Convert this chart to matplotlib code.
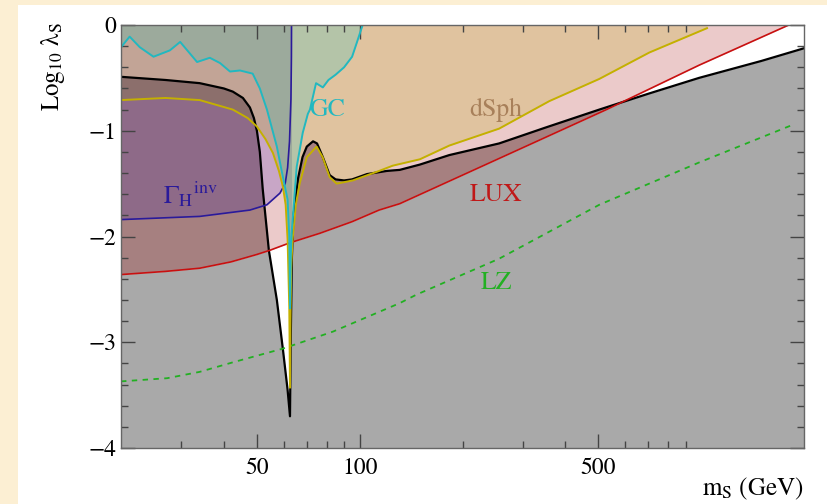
import numpy as np
import matplotlib
matplotlib.use("Agg")
import matplotlib.pyplot as plt
from matplotlib.patches import Rectangle

plt.rcParams["font.family"] = "STIXGeneral"
plt.rcParams["mathtext.fontset"] = "stix"

# curves: (m_S in GeV, log10 lambda_S)
relic_m = [20, 27, 34, 40, 42.5, 45.5, 47.7, 49, 50, 51, 52, 54.2, 57.2, 59.6, 61.5, 62.5,
           62.8, 63.3, 64, 66, 68, 70, 73, 75, 78, 81.7, 85, 90, 95, 105, 120, 131, 150,
           183, 256, 350, 503, 700, 986, 1500, 2000]
relic_l = [-0.49, -0.52, -0.55, -0.60, -0.63, -0.69, -0.78, -0.88, -1.00, -1.20, -1.55, -2.13,
           -2.60, -3.07, -3.45, -3.70, -3.00, -2.20, -1.80, -1.45, -1.25, -1.15, -1.10, -1.12,
           -1.25, -1.42, -1.46, -1.47, -1.46, -1.41, -1.38, -1.37, -1.32, -1.23, -1.12, -0.97,
           -0.80, -0.65, -0.50, -0.34, -0.22]

lux_m = [20, 27, 34, 42, 50, 54.6, 62.4, 76.4, 95, 114, 131, 200, 320, 528, 986, 1805, 2000]
lux_l = [-2.36, -2.33, -2.30, -2.24, -2.17, -2.13, -2.06, -1.97, -1.86, -1.75, -1.69, -1.42,
         -1.12, -0.80, -0.38, 0.0, 0.066]

dsph_m = [20, 27, 34, 42.5, 47, 50, 53, 55.7, 58, 59.6, 60.7, 61.5, 62.2, 62.5,
          62.7, 63.0, 63.6, 65, 66.7, 70, 74.8, 77.9, 81.7, 85.6, 95.4, 114, 125, 150,
          183, 256, 359, 503, 705, 1040]
dsph_l = [-0.71, -0.69, -0.71, -0.80, -0.88, -0.96, -1.08, -1.21, -1.38, -1.53, -1.70, -2.03,
          -2.67, -3.43, -2.80, -2.30, -2.03, -1.70, -1.50, -1.25, -1.15, -1.25, -1.44, -1.50,
          -1.47, -1.38, -1.33, -1.27, -1.14, -0.98, -0.72, -0.51, -0.26, -0.03]

gc_m = [20, 21.2, 22.7, 24.9, 27.8, 29.8, 33.4, 36.4, 39.0, 41.7, 44.6, 48.6, 51, 53.5, 57.2,
        59.6, 61.5, 62.2, 62.5, 62.8, 63.2, 65.4, 68.1, 70.5, 71.5, 74.5, 78, 81, 85, 90,
        95, 98, 102]
gc_l = [-0.21, -0.11, -0.21, -0.30, -0.24, -0.16, -0.35, -0.31, -0.36, -0.44, -0.43, -0.46,
        -0.60, -0.80, -1.15, -1.44, -1.65, -2.00, -2.68, -2.20, -1.97, -1.34, -1.02, -0.84,
        -0.80, -0.55, -0.59, -0.52, -0.47, -0.40, -0.30, -0.17, 0.0]

inv_m = [20, 34, 47.7, 53.5, 58.4, 60.5, 61.5, 62.3, 62.9, 63.1, 63.15]
inv_l = [-1.84, -1.81, -1.75, -1.70, -1.59, -1.50, -1.35, -1.10, -0.70, -0.30, 0.0]

lz_m = [20, 27.3, 34, 42.5, 59.6, 83.4, 131, 146.6, 256, 503, 986, 1866]
lz_l = [-3.37, -3.34, -3.28, -3.19, -3.06, -2.90, -2.63, -2.55, -2.21, -1.70, -1.30, -0.94]

xticks_major = [50, 100, 500]
xticks_minor = [30, 40, 60, 70, 80, 90, 200, 300, 400, 600, 700, 800, 900]
yticks_major = [0, -1, -2, -3, -4]

m_cut = 63.15  # edge of the invisible-width region


def on_grid(x, m, l):
    y = np.interp(np.log10(x), np.log10(m), l, left=np.nan, right=np.nan)
    return y


x = np.unique(np.concatenate([np.logspace(np.log10(20), np.log10(2000), 3000),
                              relic_m, lux_m, dsph_m, gc_m, inv_m]))
B = on_grid(x, relic_m, relic_l)
R = on_grid(x, lux_m, lux_l)
Y = on_grid(x, dsph_m, dsph_l)
C = on_grid(x, gc_m, gc_l)
H = on_grid(x, inv_m, inv_l)

fig = plt.figure(figsize=(8.28, 5.04), dpi=100)
fig.patch.set_facecolor("#FCEFD3")
fig.patches.append(Rectangle((18 / 828, 0), 1, 1 - 5 / 504, transform=fig.transFigure,
                             facecolor="white", edgecolor="none", zorder=-5))
ax = fig.add_axes([121 / 828, 1 - 448 / 504, 683 / 828, 423 / 504])
ax.set_facecolor("white")
ax.set_xscale("log")

top = 0.0
# excluded by relic density
ax.fill_between(x, -4.5, B, color="#A9A9A9", lw=0)
# LUX
ax.fill_between(x, R, top, color="#EBCACA", lw=0)
ax.fill_between(x, R, B, where=B > R, interpolate=True, color="#A68080", lw=0)
# invisible Higgs width
left = x <= m_cut
ax.fill_between(x, H, top, where=left, color="#C8A6C6", lw=0)
ax.fill_between(x, H, np.maximum(B, H), where=left, color="#8E6A88", lw=0)
# dSph
okY = ~np.isnan(Y)
ax.fill_between(x, np.maximum(Y, B), top, where=okY & (x >= 62.5), color="#E0C39F", lw=0)
ax.fill_between(x, np.maximum(Y, B), top, where=okY & (x <= 62.5), color="#C2A496", lw=0)
ax.fill_between(x, Y, np.maximum(Y, B), where=okY & (x <= 62.5), color="#8C6F6C", lw=0)
# GC
okC = ~np.isnan(C)
ax.fill_between(x, C, top, where=okC & (x <= m_cut), color="#9CAA9C", lw=0)
ax.fill_between(x, C, top, where=okC & (x >= m_cut), color="#B4C4A8", lw=0)

ax.plot(relic_m, relic_l, color="black", lw=1.6, zorder=5)
ax.plot(lux_m, lux_l, color="#C81010", lw=1.2, zorder=5)
ax.plot(inv_m, inv_l, color="#2A1A9A", lw=1.2, zorder=5)
ax.plot(dsph_m, dsph_l, color="#C4B000", lw=1.4, zorder=6)
ax.plot(gc_m, gc_l, color="#22B8C0", lw=1.4, zorder=7)
ax.plot(lz_m, lz_l, color="#22B022", lw=1.3, ls=(0, (3, 3)), zorder=5)

ax.text(80, -0.80, "GC", color="#22B8C0", fontsize=18.5, ha="center", va="center")
ax.text(251, -0.80, "dSph", color="#A8805A", fontsize=18.5, ha="center", va="center")
ax.text(32, -1.60, r"$\Gamma_{\rm H}{}^{\rm inv}$", color="#2A1A9A", fontsize=18.5,
        ha="center", va="center")
ax.text(251, -1.61, "LUX", color="#C01818", fontsize=18.5, ha="center", va="center")
ax.text(251, -2.44, "LZ", color="#22B022", fontsize=18.5, ha="center", va="center")

ax.set_xlim(20, 2000)
ax.set_ylim(-4, 0)
ax.set_xticks(xticks_major)
ax.set_xticklabels([str(v) for v in xticks_major])
ax.set_xticks(xticks_minor, minor=True)
ax.set_xticklabels([], minor=True)
ax.set_yticks(yticks_major)
ax.set_yticklabels(["0", "\u22121", "\u22122", "\u22123", "\u22124"])
ax.set_yticks(np.arange(-4, 0.01, 0.2), minor=True)
ax.tick_params(which="both", direction="in", top=True, right=True, colors="#444444",
               labelcolor="black", labelsize=17, width=1)
ax.tick_params(which="major", length=10)
ax.tick_params(which="minor", length=5)
ax.tick_params(axis="x", pad=7)
for s in ax.spines.values():
    s.set_color("#666666")
    s.set_linewidth(1)
    s.set_zorder(10)

fig.text(53 / 828, 1 - 22 / 504, "Log$_{10}$ \u03bb$_{\\rm S}$", rotation=90,
         ha="center", va="top", fontsize=18)
fig.text(804 / 828, 1 - 489 / 504, r"m$_{\rm S}$ (GeV)", ha="right", va="center",
         fontsize=18)

fig.savefig("out.png", dpi=100, facecolor=fig.get_facecolor())
